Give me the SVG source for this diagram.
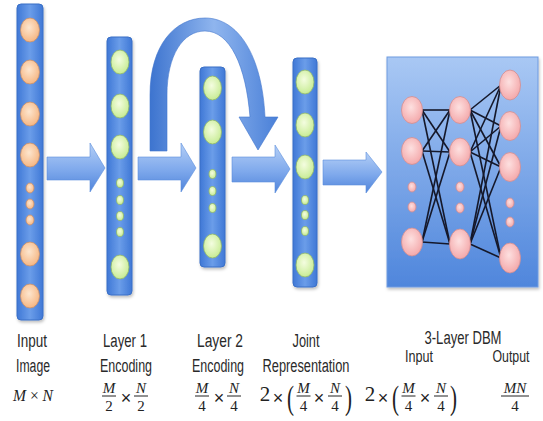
<svg xmlns="http://www.w3.org/2000/svg" width="543" height="421" viewBox="0 0 543 421">
<defs>
  <linearGradient id="colGrad" x1="0" y1="0" x2="1" y2="0">
    <stop offset="0" stop-color="#3f78d6"/>
    <stop offset="0.5" stop-color="#6b9de9"/>
    <stop offset="1" stop-color="#3f78d6"/>
  </linearGradient>
  <linearGradient id="arrGrad" x1="0" y1="0" x2="0" y2="1">
    <stop offset="0" stop-color="#b4cff6"/>
    <stop offset="0.55" stop-color="#7fa9ec"/>
    <stop offset="1" stop-color="#4f84db"/>
  </linearGradient>
  <linearGradient id="arcGrad" x1="0" y1="0" x2="1" y2="0">
    <stop offset="0" stop-color="#3d74cf"/>
    <stop offset="0.5" stop-color="#8fb5ee"/>
    <stop offset="1" stop-color="#4a80d8"/>
  </linearGradient>
  <linearGradient id="boxGrad" x1="0" y1="0" x2="0" y2="1">
    <stop offset="0" stop-color="#a9c8f4"/>
    <stop offset="1" stop-color="#4f86dc"/>
  </linearGradient>
  <radialGradient id="orange" cx="0.45" cy="0.4" r="0.6">
    <stop offset="0" stop-color="#fde6cf"/>
    <stop offset="1" stop-color="#f6b784"/>
  </radialGradient>
  <radialGradient id="green" cx="0.45" cy="0.4" r="0.6">
    <stop offset="0" stop-color="#f4fde0"/>
    <stop offset="1" stop-color="#c8ec95"/>
  </radialGradient>
  <radialGradient id="pink" cx="0.45" cy="0.4" r="0.6">
    <stop offset="0" stop-color="#fde0e0"/>
    <stop offset="1" stop-color="#f4a9ab"/>
  </radialGradient>
  <filter id="sh" x="-30%" y="-10%" width="160%" height="120%">
    <feDropShadow dx="1" dy="2" stdDeviation="1.5" flood-color="#000" flood-opacity="0.25"/>
  </filter>
</defs>
<style>
  .col { fill: url(#colGrad); stroke: #3a6fc6; stroke-width: 1; filter: url(#sh); }
  .o { fill: url(#orange); stroke: #c98f68; stroke-width: 0.8; }
  .g { fill: url(#green); stroke: #8fb66a; stroke-width: 0.8; }
  .p { fill: url(#pink); stroke: #d08e92; stroke-width: 0.8; }
  .arr { fill: url(#arrGrad); stroke: #5d8fdc; stroke-width: 0.6; }
  .edge { stroke: #15182a; stroke-width: 1.6; fill: none; }
  .lbl { font-family: "Liberation Sans", Arial, sans-serif; font-size: 18px; fill: #2a2a2a; text-anchor: middle; }
  .sm { font-size: 16px; }
  .m { font-family: "Liberation Serif", "Times New Roman", serif; fill: #222; text-anchor: middle; }
  .mi { font-style: italic; }
  .f { font-size: 15px; }
  .x { font-family: "Liberation Sans", Arial, sans-serif; font-size: 18px; fill: #222; text-anchor: middle; }
  .bar { stroke: #222; stroke-width: 1; }
</style>

<!-- connectors -->
<g id="connectors">
  <path class="arr" d="M47,157 L90,157 L90,143 L105,168 L90,192 L90,180 L47,180 Z"/>
  <path class="arr" d="M138,157 L181,157 L181,143 L196,168 L181,192 L181,180 L138,180 Z"/>
  <path class="arr" d="M232,157 L275,157 L275,145 L290,169 L275,193 L275,182 L232,182 Z"/>
  <path class="arr" d="M323,160 L366,160 L366,152 L382,172 L366,193 L366,185 L323,185 Z"/>
  <path id="skip-arc" fill="url(#arcGrad)" stroke="#4276cc" stroke-width="0.6" d="M150,151 L150,95 C150,45 175,18 205,18 C238,18 262,55 265,117 L278,117 L258,150 L239,117 L250,117 C246,66 230,31 205,31 C183,31 167,55 167,95 L167,151 Z"/>
</g>

<!-- input image column -->
<g id="input-image">
  <rect class="col" x="17" y="4" width="26" height="316" rx="4"/>
  <ellipse class="o" cx="30" cy="30" rx="9.5" ry="12"/>
  <ellipse class="o" cx="30" cy="72" rx="9.5" ry="12"/>
  <ellipse class="o" cx="30" cy="114" rx="9.5" ry="12"/>
  <ellipse class="o" cx="30" cy="155" rx="9.5" ry="12"/>
  <ellipse class="o" cx="30" cy="188" rx="4" ry="5"/>
  <ellipse class="o" cx="30" cy="204" rx="4" ry="5"/>
  <ellipse class="o" cx="30" cy="220" rx="4" ry="5"/>
  <ellipse class="o" cx="30" cy="254" rx="9.5" ry="12"/>
  <ellipse class="o" cx="30" cy="296" rx="9.5" ry="12"/>
</g>

<!-- layer 1 column -->
<g id="layer1-encoding">
  <rect class="col" x="107" y="37" width="25" height="258" rx="4"/>
  <ellipse class="g" cx="120" cy="62" rx="9" ry="12"/>
  <ellipse class="g" cx="120" cy="106" rx="9" ry="12"/>
  <ellipse class="g" cx="120" cy="147" rx="9" ry="12"/>
  <ellipse class="g" cx="120" cy="183" rx="3.5" ry="4.5"/>
  <ellipse class="g" cx="120" cy="200" rx="3.5" ry="4.5"/>
  <ellipse class="g" cx="120" cy="216" rx="3.5" ry="4.5"/>
  <ellipse class="g" cx="120" cy="232" rx="3.5" ry="4.5"/>
  <ellipse class="g" cx="120" cy="267" rx="9" ry="12"/>
</g>

<!-- layer 2 column -->
<g id="layer2-encoding">
  <rect class="col" x="200" y="67" width="25" height="200" rx="4"/>
  <ellipse class="g" cx="212.5" cy="88" rx="9" ry="12"/>
  <ellipse class="g" cx="212.5" cy="132" rx="9" ry="12"/>
  <ellipse class="g" cx="212.5" cy="174" rx="3.5" ry="4.5"/>
  <ellipse class="g" cx="212.5" cy="191" rx="3.5" ry="4.5"/>
  <ellipse class="g" cx="212.5" cy="208" rx="3.5" ry="4.5"/>
  <ellipse class="g" cx="212.5" cy="246" rx="9" ry="12"/>
</g>

<!-- joint representation column -->
<g id="joint-representation">
  <rect class="col" x="293" y="58" width="24" height="229" rx="4"/>
  <ellipse class="g" cx="305" cy="82" rx="9" ry="12"/>
  <ellipse class="g" cx="305" cy="125" rx="9" ry="12"/>
  <ellipse class="g" cx="305" cy="167" rx="9" ry="12"/>
  <ellipse class="g" cx="305" cy="200" rx="3.5" ry="4.5"/>
  <ellipse class="g" cx="305" cy="215" rx="3.5" ry="4.5"/>
  <ellipse class="g" cx="305" cy="231" rx="3.5" ry="4.5"/>
  <ellipse class="g" cx="305" cy="265" rx="9" ry="12"/>
</g>

<!-- 3-layer DBM -->
<g id="dbm">
  <rect x="387" y="57" width="151" height="230" fill="url(#boxGrad)" stroke="#6f9be0" stroke-width="1" filter="url(#sh)"/>
  <g id="dbm-edges">
    <line class="edge" x1="422" y1="110" x2="450" y2="110"/>
    <line class="edge" x1="422" y1="110" x2="450" y2="152"/>
    <line class="edge" x1="422" y1="110" x2="450" y2="244"/>
    <line class="edge" x1="422" y1="151" x2="450" y2="110"/>
    <line class="edge" x1="422" y1="151" x2="450" y2="152"/>
    <line class="edge" x1="422" y1="151" x2="450" y2="244"/>
    <line class="edge" x1="422" y1="242" x2="450" y2="110"/>
    <line class="edge" x1="422" y1="242" x2="450" y2="152"/>
    <line class="edge" x1="422" y1="242" x2="450" y2="244"/>
    <line class="edge" x1="470" y1="110" x2="501" y2="85"/>
    <line class="edge" x1="470" y1="110" x2="501" y2="126"/>
    <line class="edge" x1="470" y1="110" x2="501" y2="167"/>
    <line class="edge" x1="470" y1="110" x2="501" y2="258"/>
    <line class="edge" x1="470" y1="152" x2="501" y2="85"/>
    <line class="edge" x1="470" y1="152" x2="501" y2="126"/>
    <line class="edge" x1="470" y1="152" x2="501" y2="167"/>
    <line class="edge" x1="470" y1="152" x2="501" y2="258"/>
    <line class="edge" x1="470" y1="244" x2="501" y2="85"/>
    <line class="edge" x1="470" y1="244" x2="501" y2="126"/>
    <line class="edge" x1="470" y1="244" x2="501" y2="167"/>
    <line class="edge" x1="470" y1="244" x2="501" y2="258"/>
  </g>
  <g id="dbm-input-layer">
    <ellipse class="p" cx="412" cy="110" rx="10.5" ry="13.5"/>
    <ellipse class="p" cx="412" cy="151" rx="10.5" ry="13.5"/>
    <ellipse class="p" cx="412" cy="187" rx="4" ry="5"/>
    <ellipse class="p" cx="412" cy="207" rx="4" ry="5"/>
    <ellipse class="p" cx="412" cy="242" rx="10.5" ry="14"/>
  </g>
  <g id="dbm-hidden-layer">
    <ellipse class="p" cx="460" cy="110" rx="10.5" ry="13.5"/>
    <ellipse class="p" cx="460" cy="152" rx="10.5" ry="14"/>
    <ellipse class="p" cx="460" cy="187" rx="4" ry="5"/>
    <ellipse class="p" cx="460" cy="208" rx="4" ry="5"/>
    <ellipse class="p" cx="460" cy="244" rx="10.5" ry="15"/>
  </g>
  <g id="dbm-output-layer">
    <ellipse class="p" cx="510" cy="85" rx="10.5" ry="15"/>
    <ellipse class="p" cx="510" cy="126" rx="10.5" ry="14.5"/>
    <ellipse class="p" cx="510" cy="167" rx="10.5" ry="14.5"/>
    <ellipse class="p" cx="510" cy="203" rx="4" ry="5"/>
    <ellipse class="p" cx="510" cy="222" rx="4" ry="5"/>
    <ellipse class="p" cx="510" cy="258" rx="10.5" ry="15"/>
  </g>
</g>

<!-- labels -->
<g id="labels">
  <text class="lbl" x="32" y="347" textLength="30" lengthAdjust="spacingAndGlyphs">Input</text>
  <text class="lbl" x="33" y="372" textLength="34" lengthAdjust="spacingAndGlyphs">Image</text>
  <text class="lbl" x="125" y="347" textLength="44" lengthAdjust="spacingAndGlyphs">Layer 1</text>
  <text class="lbl" x="126" y="372" textLength="52" lengthAdjust="spacingAndGlyphs">Encoding</text>
  <text class="lbl" x="220" y="347" textLength="46" lengthAdjust="spacingAndGlyphs">Layer 2</text>
  <text class="lbl" x="218" y="372" textLength="52" lengthAdjust="spacingAndGlyphs">Encoding</text>
  <text class="lbl" x="306" y="347" textLength="27" lengthAdjust="spacingAndGlyphs">Joint</text>
  <text class="lbl" x="306" y="372" textLength="87" lengthAdjust="spacingAndGlyphs">Representation</text>
  <text class="lbl" x="463" y="344" textLength="77" lengthAdjust="spacingAndGlyphs">3-Layer DBM</text>
  <text class="lbl sm" x="419" y="362" textLength="28" lengthAdjust="spacingAndGlyphs">Input</text>
  <text class="lbl sm" x="511" y="362" textLength="37" lengthAdjust="spacingAndGlyphs">Output</text>

  <!-- M x N -->
  <text class="m" x="33" y="401" font-size="17" textLength="40" lengthAdjust="spacingAndGlyphs"><tspan class="mi">M</tspan> × <tspan class="mi">N</tspan></text>

  <!-- M/2 x N/2 -->
  <text class="m mi f" x="109" y="393">M</text>
  <line class="bar" x1="102" y1="396" x2="116" y2="396"/>
  <text class="m f" x="109" y="411">2</text>
  <text class="x" x="126" y="404">×</text>
  <text class="m mi f" x="141" y="393">N</text>
  <line class="bar" x1="134" y1="396" x2="148" y2="396"/>
  <text class="m f" x="141" y="411">2</text>

  <!-- M/4 x N/4 -->
  <text class="m mi f" x="202" y="393">M</text>
  <line class="bar" x1="195" y1="396" x2="209" y2="396"/>
  <text class="m f" x="202" y="411">4</text>
  <text class="x" x="219" y="404">×</text>
  <text class="m mi f" x="234" y="393">N</text>
  <line class="bar" x1="227" y1="396" x2="241" y2="396"/>
  <text class="m f" x="234" y="411">4</text>

  <!-- 2 x (M/4 x N/4) joint -->
  <text class="m" x="265" y="401" font-size="21">2</text>
  <text class="x" x="278" y="404">×</text>
  <text class="m" x="290.5" y="409" font-size="34" textLength="7" lengthAdjust="spacingAndGlyphs">(</text>
  <text class="m mi f" x="303.5" y="393">M</text>
  <line class="bar" x1="296.5" y1="396" x2="310.5" y2="396"/>
  <text class="m f" x="303.5" y="411">4</text>
  <text class="x" x="319" y="404">×</text>
  <text class="m mi f" x="335" y="393">N</text>
  <line class="bar" x1="328" y1="396" x2="342" y2="396"/>
  <text class="m f" x="335" y="411">4</text>
  <text class="m" x="348.5" y="409" font-size="34" textLength="7" lengthAdjust="spacingAndGlyphs">)</text>

  <!-- 2 x (M/4 x N/4) DBM input -->
  <text class="m" x="370" y="401" font-size="21">2</text>
  <text class="x" x="383" y="404">×</text>
  <text class="m" x="395.5" y="409" font-size="34" textLength="7" lengthAdjust="spacingAndGlyphs">(</text>
  <text class="m mi f" x="408.5" y="393">M</text>
  <line class="bar" x1="401.5" y1="396" x2="415.5" y2="396"/>
  <text class="m f" x="408.5" y="411">4</text>
  <text class="x" x="425" y="404">×</text>
  <text class="m mi f" x="441" y="393">N</text>
  <line class="bar" x1="434" y1="396" x2="448" y2="396"/>
  <text class="m f" x="441" y="411">4</text>
  <text class="m" x="453.5" y="409" font-size="34" textLength="7" lengthAdjust="spacingAndGlyphs">)</text>

  <!-- MN/4 -->
  <text class="m mi f" x="515" y="393">MN</text>
  <line class="bar" x1="501" y1="396" x2="529" y2="396"/>
  <text class="m f" x="515" y="411">4</text>
</g>
</svg>
